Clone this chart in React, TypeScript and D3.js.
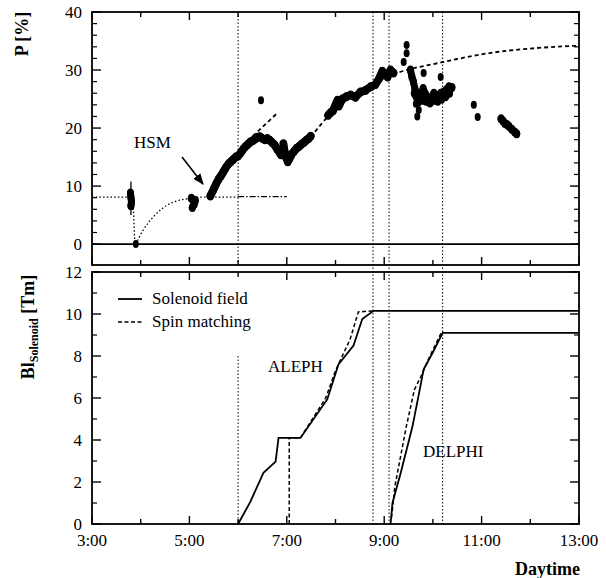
import React from "react";
import * as d3 from "d3";

// ---------- data ----------
const hourTicks = [3, 4, 5, 6, 7, 8, 9, 10, 11, 12, 13];
const hourLabels = ["3:00", "5:00", "7:00", "9:00", "11:00", "13:00"];
const labelHours = [3, 5, 7, 9, 11, 13];
const pTicksMajor = [0, 10, 20, 30, 40];
const bTicksMajor = [0, 2, 4, 6, 8, 10, 12];

// polarization measurements [hour, P%] — continuous bands
const polEarly: [number, number][] = [[3.79, 8.8], [3.8, 8.0], [3.81, 7.3], [3.8, 6.6]];
const polZero: [number, number][] = [[3.9, 0]];
const polHsm: [number, number][] = [[5.04, 7.9], [5.08, 7.6], [5.12, 7.5], [5.1, 6.9], [5.06, 6.3]];
const polRise: [number, number][] = [
  [5.43, 8.3], [5.5, 9.5], [5.55, 10.4], [5.6, 11.2], [5.65, 11.8], [5.7, 12.5], [5.75, 13.2],
  [5.8, 13.8], [5.85, 14.2], [5.9, 14.6], [5.95, 15.0], [6.0, 15.2], [6.05, 15.7], [6.1, 16.3],
  [6.15, 16.8], [6.2, 17.2], [6.25, 17.6], [6.3, 17.8], [6.35, 18.1], [6.4, 18.4], [6.45, 18.5],
  [6.5, 18.2], [6.55, 18.0], [6.6, 18.2], [6.65, 17.9], [6.7, 17.5], [6.75, 17.1], [6.8, 16.4],
  [6.85, 15.8], [6.88, 15.4],
];
const polDip: [number, number][] = [
  [6.93, 17.3], [6.95, 16.2], [6.98, 15.0], [7.02, 14.2], [7.06, 14.8], [7.1, 15.5], [7.15, 16.0],
  [7.2, 16.5], [7.25, 16.8], [7.3, 17.2], [7.35, 17.5], [7.4, 17.9], [7.45, 18.2], [7.49, 18.6],
];
const polMid: [number, number][] = [
  [7.85, 22.2], [7.9, 22.7], [7.95, 23.0], [8.0, 24.0], [8.04, 24.8], [8.07, 23.8], [8.14, 25.0],
  [8.22, 25.4], [8.31, 25.7], [8.41, 25.3], [8.51, 26.2], [8.62, 26.5], [8.72, 27.1], [8.82, 27.5],
  [8.9, 28.6], [8.96, 29.8], [9.02, 29.3], [9.07, 28.8], [9.13, 30.0], [9.19, 29.5],
];
const polPeak: [number, number][] = [
  [9.54, 30.0], [9.57, 28.8], [9.6, 28.0], [9.63, 26.8], [9.67, 26.0], [9.71, 25.0], [9.75, 25.4],
  [9.8, 26.8], [9.85, 25.8], [9.89, 25.3], [9.95, 25.0], [10.02, 26.0], [10.1, 25.3], [10.16, 26.0],
  [10.22, 26.2], [10.28, 26.6], [10.33, 27.1], [10.39, 27.0],
];
const polPeakLow: [number, number][] = [
  [9.62, 26.0], [9.7, 24.5], [9.78, 24.8], [9.86, 24.6], [9.94, 24.3], [10.02, 24.8], [10.1, 24.6],
  [10.18, 25.0], [10.26, 25.4], [10.34, 26.0],
];
const polSingles: [number, number][] = [
  [9.4, 31.4], [9.46, 32.9], [9.46, 34.3], [9.71, 23.1], [9.81, 29.5], [10.16, 28.8], [9.65, 24.2],
  [6.47, 24.8], [10.84, 24.0], [10.92, 21.9], [9.68, 22.0],
];
const polLate: [number, number][] = [
  [11.4, 21.6], [11.44, 21.2], [11.48, 20.8], [11.52, 20.6], [11.56, 20.3], [11.62, 19.8],
  [11.68, 19.3], [11.72, 19.0],
];
const errEarly: [number, number] = [5.0, 10.8];

// theory / fit curves
const levelLine: [number, number][] = [[3.0, 8.1], [3.84, 8.1], [3.88, 0]];
const buildUp: [number, number][] = [
  [3.9, 0], [4.05, 2.4], [4.26, 4.7], [4.54, 6.7], [4.81, 7.6], [5.06, 7.9], [5.22, 8.1], [6.0, 8.1],
];
const levelLine2: [number, number][] = [[6.0, 8.2], [7.0, 8.2]];
const fitHsm: [number, number][] = [[6.3, 18.6], [6.82, 22.7]];
const fitMain: [number, number][] = [
  [7.49, 18.4], [7.9, 22.5], [8.5, 26.4], [9.0, 28.6], [9.5, 30.1], [10.0, 31.0], [10.5, 31.9],
  [11.0, 32.7], [11.5, 33.3], [12.0, 33.7], [12.5, 34.0], [13.0, 34.2],
];

// solenoid field Bl [Tm]
const alephField: [number, number][] = [
  [6.0, 0], [6.25, 1.05], [6.52, 2.44], [6.77, 2.97], [6.83, 4.1], [7.28, 4.1], [7.83, 5.93],
  [8.06, 7.6], [8.37, 8.5], [8.55, 9.76], [8.78, 10.15], [13.0, 10.15],
];
const alephSpin: [number, number][] = [
  [7.05, 0], [7.05, 4.1], [7.28, 4.1], [7.8, 6.0], [8.0, 7.3], [8.3, 8.8], [8.47, 10.1], [8.78, 10.15],
];
const delphiField: [number, number][] = [
  [9.13, 0], [9.17, 1.0], [9.34, 2.44], [9.58, 4.64], [9.73, 6.4], [9.81, 7.37], [10.0, 8.18],
  [10.2, 9.1], [13.0, 9.1],
];
const delphiSpin: [number, number][] = [
  [9.15, 0.3], [9.22, 1.8], [9.45, 4.6], [9.62, 6.4], [9.75, 7.0], [9.92, 7.9], [10.17, 9.1],
];
const markerFull = [8.77, 9.1, 10.2];
const markerTop = 6.0;
const markerBottom: [number, number] = [6.0, 8.0];

// ---------- layout ----------
const W = 606, H = 578;
const X = d3.scaleLinear().domain([3, 13]).range([92, 579]);
const YT = d3.scaleLinear().domain([-3.6, 40]).range([265, 12]);
const YB = d3.scaleLinear().domain([0, 12]).range([524, 272]);
const FONT = "Liberation Serif, DejaVu Serif, serif";

const lineT = d3.line<[number, number]>().x((d) => X(d[0])).y((d) => YT(d[1]));
const lineTc = d3.line<[number, number]>().x((d) => X(d[0])).y((d) => YT(d[1])).curve(d3.curveMonotoneX);
const lineB = d3.line<[number, number]>().x((d) => X(d[0])).y((d) => YB(d[1]));

function Frame({ y0, y1, yScale, major, minorStep, yMax }: any) {
  const x0 = X.range()[0], x1 = X.range()[1];
  const minors = d3.range(0, yMax + 0.001, minorStep).filter((v) => !major.includes(v));
  return (
    <g>
      <rect x={x0} y={y0} width={x1 - x0} height={y1 - y0} fill="none" stroke="#000" strokeWidth={1.8} />
      {hourTicks.map((h) => {
        const len = labelHours.includes(h) ? 8 : 5;
        return (
          <g key={"h" + h}>
            <line x1={X(h)} x2={X(h)} y1={y1} y2={y1 - len} stroke="#000" strokeWidth={1.4} />
            <line x1={X(h)} x2={X(h)} y1={y0} y2={y0 + len} stroke="#000" strokeWidth={1.4} />
          </g>
        );
      })}
      {major.map((v: number) => (
        <g key={"m" + v}>
          <line x1={x0} x2={x0 + 9} y1={yScale(v)} y2={yScale(v)} stroke="#000" strokeWidth={1.4} />
          <line x1={x1} x2={x1 - 9} y1={yScale(v)} y2={yScale(v)} stroke="#000" strokeWidth={1.4} />
          <text x={82} y={yScale(v) + 5.5} textAnchor="end" fontSize={17} style={{ fontFamily: FONT }}>{v}</text>
        </g>
      ))}
      {minors.map((v: number) => (
        <g key={"n" + v}>
          <line x1={x0} x2={x0 + 5} y1={yScale(v)} y2={yScale(v)} stroke="#000" strokeWidth={1.2} />
          <line x1={x1} x2={x1 - 5} y1={yScale(v)} y2={yScale(v)} stroke="#000" strokeWidth={1.2} />
        </g>
      ))}
    </g>
  );
}

function Band({ data, w = 7 }: { data: [number, number][]; w?: number }) {
  return (
    <g>
      <path d={lineT(data) || ""} fill="none" stroke="#000" strokeWidth={w} strokeLinejoin="round" strokeLinecap="round" />
      {data.map((d, i) => (
        <ellipse key={i} cx={X(d[0])} cy={YT(d[1])} rx={3.5} ry={4.5} fill="#000" />
      ))}
    </g>
  );
}

const txt = { fontFamily: FONT } as const;

export default function App() {
  return (
    <svg width={W} height={H} style={{ position: "absolute", left: 0, top: 0, background: "#fff", fontFamily: FONT }}>
      <rect width={W} height={H} fill="#fff" />
      {/* vertical dotted markers */}
      <line x1={X(markerTop)} x2={X(markerTop)} y1={YT(40)} y2={YT(-3.6)} stroke="#000" strokeWidth={1} strokeDasharray="1.5,2" />
      <line x1={X(markerBottom[0])} x2={X(markerBottom[0])} y1={YB(markerBottom[1])} y2={YB(0)} stroke="#000" strokeWidth={1} strokeDasharray="1.5,2" />
      {markerFull.map((t) => (
        <line key={t} x1={X(t)} x2={X(t)} y1={YT(40)} y2={YB(0)} stroke="#000" strokeWidth={1} strokeDasharray="1.5,2" />
      ))}

      <Frame y0={12} y1={265} yScale={YT} major={pTicksMajor} minorStep={2} yMax={40} />
      <Frame y0={272} y1={524} yScale={YB} major={bTicksMajor} minorStep={1} yMax={12} />

      {/* zero line */}
      <line x1={X(3)} x2={X(13)} y1={YT(0)} y2={YT(0)} stroke="#000" strokeWidth={1.8} />

      {/* model curves top */}
      <path d={lineT(levelLine) || ""} fill="none" stroke="#000" strokeWidth={1.3} strokeDasharray="1.5,2.2" />
      <path d={lineTc(buildUp) || ""} fill="none" stroke="#000" strokeWidth={1.3} strokeDasharray="1.5,2.2" />
      <path d={lineT(levelLine2) || ""} fill="none" stroke="#000" strokeWidth={1.3} strokeDasharray="6,2,1.5,2" />
      <path d={lineT(fitHsm) || ""} fill="none" stroke="#000" strokeWidth={1.8} strokeDasharray="4,3" />
      <path d={lineTc(fitMain) || ""} fill="none" stroke="#000" strokeWidth={1.8} strokeDasharray="4,3" />

      {/* data */}
      <line x1={X(3.8)} x2={X(3.8)} y1={YT(errEarly[0])} y2={YT(errEarly[1])} stroke="#000" strokeWidth={1.3} />
      <Band data={polEarly} />
      <Band data={polHsm} />
      <Band data={polRise} w={8} />
      <Band data={polDip} w={8} />
      <Band data={polMid} w={8} />
      <Band data={polPeak} />
      <Band data={polPeakLow} />
      <Band data={polLate} />
      {polZero.concat(polSingles).map((d, i) => (
        <ellipse key={"s" + i} cx={X(d[0])} cy={YT(d[1])} rx={3} ry={4} fill="#000" />
      ))}

      {/* HSM annotation */}
      <text x={134} y={148} fontSize={17} style={txt}>HSM</text>
      <defs>
        <marker id="arr" viewBox="0 0 10 10" refX={9} refY={5} markerWidth={7} markerHeight={7} orient="auto">
          <path d="M0,1 L10,5 L0,9 z" fill="#000" />
        </marker>
      </defs>
      <line x1={182} y1={157} x2={203} y2={184} stroke="#000" strokeWidth={1.6} markerEnd="url(#arr)" />

      {/* bottom curves */}
      <path d={lineB(alephField) || ""} fill="none" stroke="#000" strokeWidth={1.8} />
      <path d={lineB(alephSpin) || ""} fill="none" stroke="#000" strokeWidth={1.5} strokeDasharray="4,2.5" />
      <path d={lineB(delphiField) || ""} fill="none" stroke="#000" strokeWidth={1.8} />
      <path d={lineB(delphiSpin) || ""} fill="none" stroke="#000" strokeWidth={1.5} strokeDasharray="4,2.5" />

      <text x={268} y={372} fontSize={17} style={txt}>ALEPH</text>
      <text x={423} y={457} fontSize={17} style={txt}>DELPHI</text>

      {/* legend */}
      <line x1={118} x2={142} y1={299} y2={299} stroke="#000" strokeWidth={1.8} />
      <text x={152} y={304} fontSize={17} style={txt}>Solenoid field</text>
      <line x1={118} x2={142} y1={322} y2={322} stroke="#000" strokeWidth={1.5} strokeDasharray="4,2.5" />
      <text x={152} y={327} fontSize={17} style={txt}>Spin matching</text>

      {/* x labels */}
      {labelHours.map((h, i) => (
        <text key={h} x={X(h)} y={546} textAnchor="middle" fontSize={17} style={txt}>{hourLabels[i]}</text>
      ))}
      <text x={580} y={575} textAnchor="end" fontSize={18} fontWeight="bold" style={txt}>Daytime</text>

      {/* y titles */}
      <text transform="translate(28,34) rotate(-90)" textAnchor="middle" fontSize={18} fontWeight="bold" style={txt}>P [%]</text>
      <text transform="translate(34,327) rotate(-90)" textAnchor="middle" fontSize={18} fontWeight="bold" style={txt}>
        Bl<tspan fontSize={12} dy={4}>Solenoid</tspan><tspan dy={-4}> [Tm]</tspan>
      </text>
    </svg>
  );
}
